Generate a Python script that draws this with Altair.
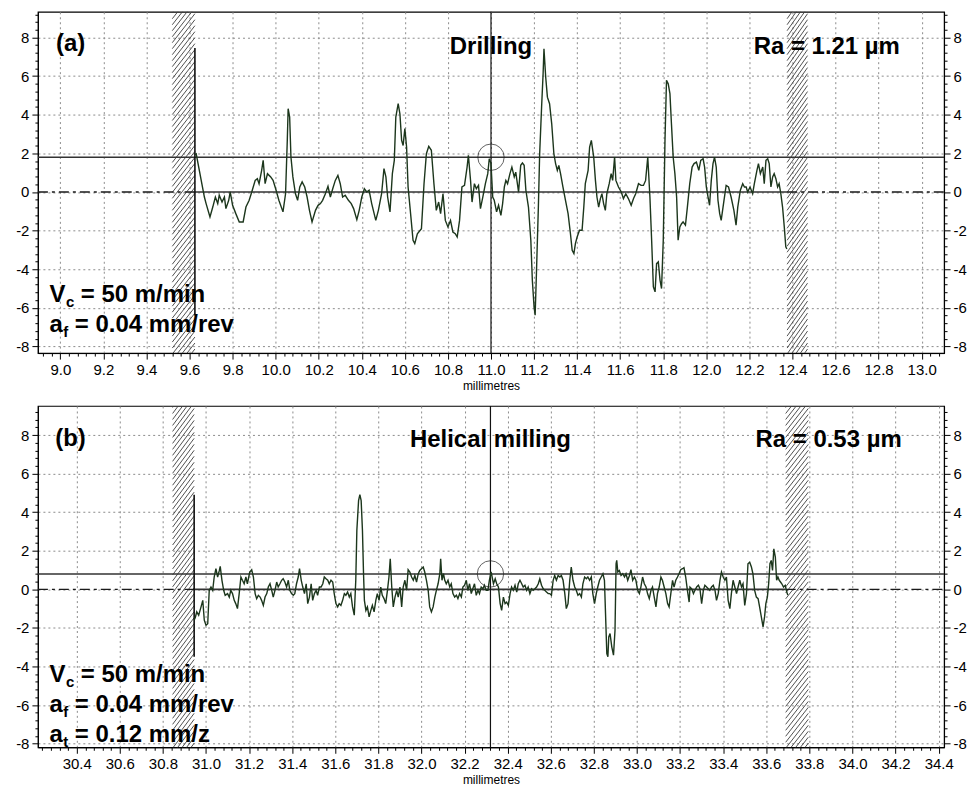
import altair as alt
import pandas as pd
import numpy as np

# ---------------- panel (a): drilling profile ----------------
A_X = [9.625, 9.631, 9.669, 9.677, 9.695, 9.708, 9.720, 9.731, 9.738, 9.751, 9.762, 9.769, 9.782, 9.789,
       9.800, 9.815, 9.831, 9.849, 9.862, 9.877, 9.889, 9.905, 9.915, 9.923, 9.935, 9.942, 9.951, 9.962,
       9.977, 9.988, 10.000, 10.015, 10.034, 10.046, 10.054, 10.058, 10.065, 10.071, 10.080, 10.092, 10.102,
       10.112, 10.123, 10.135, 10.146, 10.157, 10.169, 10.185, 10.197, 10.208, 10.218, 10.231, 10.243,
       10.254, 10.265, 10.277, 10.289, 10.300, 10.311, 10.323, 10.338, 10.351, 10.362, 10.377, 10.388,
       10.400, 10.412, 10.423, 10.434, 10.446, 10.465, 10.477, 10.492, 10.503, 10.512, 10.520, 10.531,
       10.542, 10.551, 10.558, 10.569, 10.577, 10.585, 10.592, 10.600, 10.608, 10.615, 10.628, 10.638,
       10.646, 10.658, 10.677, 10.689, 10.700, 10.711, 10.723, 10.735, 10.746, 10.757, 10.766, 10.777,
       10.788, 10.800, 10.812, 10.823, 10.834, 10.843, 10.854, 10.865, 10.877, 10.889, 10.895, 10.905,
       10.912, 10.923, 10.932, 10.942, 10.951, 10.962, 10.974, 10.985, 10.992, 11.000, 11.008,
       11.015, 11.026, 11.035, 11.046, 11.054, 11.062, 11.069, 11.077, 11.088, 11.097, 11.108, 11.115,
       11.128, 11.138, 11.146, 11.154, 11.162, 11.174, 11.185, 11.192, 11.200, 11.205, 11.211, 11.220,
       11.226, 11.235, 11.242, 11.246, 11.254, 11.262, 11.272, 11.282, 11.292, 11.300, 11.308, 11.315,
       11.323, 11.334, 11.346, 11.358, 11.369, 11.377, 11.385, 11.392, 11.400, 11.411, 11.423, 11.431,
       11.438, 11.451, 11.458, 11.466, 11.477, 11.485, 11.492, 11.500, 11.508, 11.515, 11.523, 11.531,
       11.538, 11.549, 11.558, 11.565, 11.574, 11.580, 11.592, 11.605, 11.615, 11.626, 11.638, 11.651,
       11.662, 11.672, 11.685, 11.697, 11.708, 11.718, 11.728, 11.738, 11.746, 11.754, 11.762, 11.769,
       11.777, 11.785, 11.792, 11.800, 11.808, 11.815, 11.823, 11.831, 11.838, 11.846, 11.854, 11.862,
       11.869, 11.877, 11.885, 11.892, 11.903, 11.912, 11.923, 11.934, 11.943, 11.954, 11.965, 11.974,
       11.985, 11.992, 12.000, 12.008, 12.015, 12.023, 12.031, 12.038, 12.046, 12.054, 12.062, 12.069,
       12.082, 12.092, 12.103, 12.115, 12.128, 12.138, 12.146, 12.158, 12.169, 12.177, 12.185, 12.192,
       12.203, 12.215, 12.223, 12.235, 12.242, 12.251, 12.262, 12.269, 12.277, 12.285, 12.292, 12.300,
       12.308, 12.315, 12.323, 12.331, 12.338, 12.346, 12.354, 12.362, 12.369, 12.374]
A_Y = [1.95, 1.98, -0.26, -0.60, -1.29, -0.78, -0.26, -0.60, -0.17, -0.52, -0.26, -0.86, -0.43, 0.00,
       -0.69, -1.12, -1.55, -1.55, -0.78, -0.43, 0.00, 0.60, 0.69, 0.43, 1.12, 1.64, 0.43, 0.95,
       0.78, 0.60, 0.17, -0.43, -1.03, -0.09, 2.67, 4.31, 3.88, 1.81, 0.78, -0.09, -0.43,
       0.26, 0.52, 0.26, -0.26, -0.95, -1.55, -0.95, -0.69, -0.60, -0.43, -0.09, 0.29,
       -0.26, 0.17, 0.60, 0.86, 0.43, -0.26, -0.17, -0.43, -0.60, -0.86, -1.43, -0.95,
       -0.26, 0.17, 0.00, 0.09, -0.60, -1.47, -0.95, -0.09, 1.21, 0.78, -0.26, -1.03,
       0.95, 1.64, 3.88, 4.57, 4.05, 2.67, 2.41, 3.28, 2.33, 0.26, -1.29, -2.50,
       -2.67, -2.16, -1.90, 0.43, 1.98, 2.36, 2.16, 0.43, -0.95, -0.52, -1.12, -0.09,
       -1.47, -1.81, -1.47, -2.07, -2.16, -2.33, -1.47, 0.26, 0.34, 1.29, 1.90, 0.60,
       -0.52, 0.43, 0.17, 0.34, -0.86, -0.26, 0.43, 0.95, 1.72, 1.47, -0.26,
       -0.43, -1.03, -0.69, -1.21, -0.60, 0.26, 0.60, 0.43, 0.95, 1.29, 0.78, 1.03,
       0.00, 1.38, 1.50, 1.38, 0.09, -0.78, -2.50, -4.57, -5.95, -6.38, -4.22, -0.78,
       1.98, 4.40, 6.12, 7.41, 5.95, 4.91, 4.57, 3.53, 1.98, 1.47, 1.12, 1.38,
       0.95, 0.26, -0.43, -1.12, -2.16, -3.02, -3.19, -2.67, -2.33, -1.98, -1.98, -0.78,
       0.43, 1.12, 2.33, 2.67, 1.81, 0.60, -0.26, -0.78, -0.34, -0.09, -0.60, -0.95,
       -0.09, 0.43, 0.95, 0.60, 1.81, 0.60, 0.26, 0.00, -0.34, -0.09, -0.34, -0.69,
       -0.34, -0.09, 0.43, 0.34, 0.34, 0.60, 1.81, -0.26, -2.50, -4.91, -5.17, -3.71,
       -3.62, -4.57, -5.00, -2.50, 2.67, 5.78, 5.60, 5.09, 3.53, 1.81, 0.95, -0.26,
       -2.50, -1.81, -1.64, -1.55, -1.72, -0.78, 0.43, 1.29, 1.47, 1.55, 1.12, 1.64,
       1.72, 1.29, 0.26, -0.26, -0.69, 0.60, 1.47, 1.81, 1.29, -0.43, -1.12, -1.47,
       -0.43, 0.34, 0.26, -0.26, -0.95, -1.72, -0.78, 0.09, 0.43, 0.26, 0.26, 0.00,
       0.26, -0.09, 0.43, 1.12, 1.47, 0.95, 1.29, 0.43, 1.64, 1.72, 1.47, 0.26,
       0.78, 0.95, 0.69, 0.26, 0.43, -0.09, -0.78, -1.81, -2.84, -2.95]

# ---------------- panel (b): helical milling profile ----------------
B_X = [30.945, 30.951, 30.957, 30.966, 30.977, 30.985, 30.992, 31.000, 31.008, 31.015, 31.023, 31.031,
       31.038, 31.046, 31.054, 31.062, 31.066, 31.074, 31.082, 31.089, 31.100, 31.108, 31.115, 31.123,
       31.131, 31.138, 31.146, 31.154, 31.162, 31.169, 31.177, 31.185, 31.192, 31.203, 31.212, 31.220,
       31.228, 31.235, 31.243, 31.251, 31.258, 31.266, 31.274, 31.282, 31.289, 31.297, 31.305, 31.312,
       31.320, 31.328, 31.335, 31.343, 31.351, 31.358, 31.366, 31.374, 31.382, 31.389, 31.397, 31.405,
       31.412, 31.420, 31.428, 31.434, 31.442, 31.449, 31.457, 31.465, 31.472, 31.480, 31.488, 31.495,
       31.503, 31.511, 31.518, 31.526, 31.534, 31.542, 31.549, 31.557, 31.565, 31.572, 31.580, 31.588,
       31.595, 31.603, 31.611, 31.618, 31.626, 31.634, 31.642, 31.649, 31.657, 31.665, 31.672, 31.680,
       31.688, 31.695, 31.700, 31.708, 31.714, 31.720, 31.726, 31.731, 31.735, 31.742, 31.749, 31.757,
       31.765, 31.772, 31.780, 31.788, 31.795, 31.803, 31.811, 31.818, 31.826, 31.834, 31.842, 31.849,
       31.855, 31.862, 31.869, 31.877, 31.885, 31.892, 31.900, 31.908, 31.915, 31.923, 31.931, 31.938,
       31.946, 31.954, 31.962, 31.969, 31.977, 31.985, 31.992, 32.000, 32.008, 32.015, 32.023, 32.031,
       32.038, 32.046, 32.054, 32.062, 32.069, 32.077, 32.085, 32.089, 32.095, 32.102, 32.108, 32.115,
       32.123, 32.131, 32.138, 32.146, 32.154, 32.162, 32.169, 32.177, 32.185, 32.192, 32.200, 32.208,
       32.215, 32.223, 32.231, 32.238, 32.246, 32.254, 32.262, 32.269, 32.277, 32.285, 32.292, 32.300,
       32.308, 32.315, 32.323,
       32.334, 32.342, 32.349, 32.357, 32.365, 32.372, 32.380, 32.388, 32.395, 32.403, 32.411, 32.418,
       32.426, 32.434, 32.442, 32.449, 32.457, 32.465, 32.472, 32.480, 32.488, 32.495, 32.503, 32.511,
       32.518, 32.526, 32.534, 32.542, 32.549, 32.557, 32.565, 32.572, 32.580, 32.588, 32.595, 32.603,
       32.611, 32.618, 32.626, 32.634, 32.642, 32.649, 32.657, 32.665, 32.672, 32.680, 32.688, 32.695,
       32.703, 32.711, 32.718, 32.726, 32.734, 32.742, 32.749, 32.757, 32.765, 32.772, 32.780, 32.788,
       32.795, 32.803, 32.811, 32.818, 32.826, 32.834, 32.842, 32.849, 32.854, 32.860, 32.865, 32.869,
       32.875, 32.883, 32.891, 32.898, 32.903, 32.906, 32.911, 32.918, 32.926, 32.934, 32.942, 32.949,
       32.957, 32.965, 32.972, 32.980, 32.988, 32.995, 33.003, 33.011, 33.018, 33.026, 33.034, 33.042,
       33.049, 33.057, 33.065, 33.072, 33.080, 33.088, 33.095, 33.103, 33.111, 33.118, 33.126, 33.134,
       33.142, 33.149, 33.157, 33.165, 33.172, 33.180, 33.188, 33.195, 33.203, 33.211, 33.218, 33.226,
       33.234, 33.242, 33.246, 33.254, 33.262, 33.269, 33.277, 33.285, 33.292, 33.300, 33.308, 33.315,
       33.323, 33.331, 33.338, 33.346, 33.354, 33.362, 33.369, 33.377, 33.385, 33.392, 33.400, 33.408,
       33.415, 33.423, 33.431, 33.438, 33.446, 33.454, 33.462, 33.469, 33.477, 33.485, 33.492, 33.500,
       33.508, 33.515, 33.523, 33.531, 33.538, 33.546, 33.554, 33.562, 33.569, 33.577, 33.585, 33.592,
       33.598, 33.605, 33.611, 33.617, 33.623, 33.629, 33.635, 33.642, 33.648, 33.654, 33.660, 33.666,
       33.672, 33.680, 33.688, 33.695, 33.700]
B_Y = [-1.60, -1.43, -1.17, -1.34, -0.91, -0.57, -1.60, -1.86, -1.78, -0.05, 0.12, -0.05,
       0.64, 1.07, 0.64, 0.98, 1.19, 0.47, -0.05, -0.31, -0.22, -0.40, -0.05, -0.22,
       -0.57, -0.74, -1.00, -0.22, 0.64, 0.47, 0.29, 0.64, 0.29, 0.90, 1.02, 0.64,
       -0.22, -0.48, -0.31, -0.40, -0.57, -0.83, -0.40, -0.22, 0.12, 0.29, -0.05, -0.40,
       -0.05, 0.38, 0.12, 0.29, 0.47, 0.55, 0.38, 0.12, 0.47, -0.05, -0.22, -0.31,
       -0.22, 0.29, 0.64, 1.07, 0.47, 0.12, -0.22, 0.29, -0.74, -0.40, 0.29, -0.57,
       -0.22, -0.05, -0.31, 0.12, 0.12, 0.29, 0.64, 0.55, 0.47, 0.29, 0.47, 0.38,
       -0.22, -0.74, -0.91, -0.74, -0.83, -0.57, -0.22, -0.31, -0.14, -0.40, -0.22, -0.91,
       -1.34, 0.47, 3.05, 4.60, 4.91, 4.60, 3.05, 0.81, -0.57, -1.09, -0.91, -1.43,
       -1.09, -0.83, -1.17, -0.57, -0.22, -0.57, 0.12, -0.31, -0.48, -0.74, -0.05, 0.64,
       1.59, 0.12, -0.91, -0.40, -0.05, -0.40, 0.12, -0.91, 0.12, 0.47, -0.05, 1.02,
       0.90, 0.64, 0.47, 0.72, 0.38, 0.81, 0.98, 1.07, 1.16, 0.90, 0.47, -0.05,
       -0.91, -1.17, -0.91, -0.40, -0.05, 0.29, 0.81, 1.59, 0.47, 0.81, 0.47, 0.29,
       0.47, 0.12, 0.29, -0.22, -0.40, -0.31, -0.48, -0.22, -0.40, 0.12, 0.21, 0.47,
       -0.05, 0.29, -0.22, 0.03, 0.29, -0.31, -0.05, -0.22, 0.12, 0.03, 0.21, -0.05,
       -0.05, 0.47, 0.90,
       0.29, 0.55, 0.29, 0.12, -0.74, -1.09, -0.40, -0.74, -0.66, -0.83, -0.22, 0.12,
       -0.05, 0.21, -0.14, 0.29, 0.47, 0.29, 0.12, 0.21, -0.05, 0.12, -0.22, 0.03,
       -0.05, 0.03, 0.12, 0.29, 0.55, 0.21, 0.03, -0.05, -0.14, -0.22, -0.22, -0.31,
       0.47, 0.72, 0.47, 0.72, 0.64, 0.72, 0.47, -0.22, -1.00, -0.74, 0.47, 1.16,
       0.47, 0.12, -0.05, -0.31, -0.22, -0.40, 0.29, 0.64, 0.55, 0.64, 0.47, 0.64,
       -0.22, -0.74, -0.22, 0.12, 0.47, 0.64, 0.81, 0.47, -1.26, -3.33, -3.50, -2.47,
       -2.29, -2.98, -3.41, -2.12, 1.33, 1.50, 0.90, 0.98, 0.72, 0.81, 0.64, 0.81,
       0.47, 0.72, 1.02, 0.47, 0.64, 0.47, -0.05, -0.22, 0.12, 0.64, 0.29, 0.12,
       -0.22, -0.48, -0.05, 0.12, -0.40, -0.91, -0.22, 0.12, 0.64, 0.47, 0.12, -0.22,
       -0.74, -0.91, -0.22, 0.47, 0.12, 0.47, 0.64, 0.81, 1.02, 1.07, 1.12, 0.64,
       -0.05, -0.66, 0.12, 0.03, -0.22, -0.05, 0.12, 0.21, 0.03, -0.74, -0.05, 0.21,
       0.12, 0.03, -0.05, 0.12, 0.21, -0.05, -0.57, -0.22, 0.47, 0.90, 0.64, 0.47,
       0.64, -0.57, -1.00, -0.22, 0.47, 0.12, -0.22, 0.12, 0.47, 0.12, 0.29, -0.83,
       -0.22, 1.33, 1.41, 1.16, 0.81, -0.05, -0.40, -0.48, -0.91, -1.43, -1.95, -1.43,
       -0.74, -0.40, 0.29, 1.33, 1.50, 0.98, 2.10, 1.67, 0.47, 0.64, 0.47, 0.38,
       0.29, 0.12, 0.21, -0.14, -0.30]

# ---------------- panel settings (values in mm / µm) ----------------
A_XDOM, A_YDOM = [8.896, 13.104], [-8.34, 9.33]
B_XDOM, B_YDOM = [30.22, 34.425], [-8.19, 9.51]
A_BANDS = [(9.52, 9.625), (12.375, 12.47)]
B_BANDS = [(30.845, 30.945), (33.69, 33.795)]
A_RA_LEVEL, B_RA_LEVEL = 1.8, 0.8
A_CURSOR, B_CURSOR = 11.0, 32.32
A_START, B_START = (9.625, 7.45, -6.4), (30.945, 4.9, -3.5)
A_XTICK_START, B_XTICK_START = 8.92, 30.24

A_TAG, B_TAG = "(a)", "(b)"
A_TITLE, B_TITLE = "Drilling", "Helical milling"
A_RA, B_RA = "Ra = 1.21 µm", "Ra = 0.53 µm"
A_TAG_POS, B_TAG_POS = (8.98, 7.67), (30.30, 7.8)
A_TITLE_Y, B_TITLE_Y = 7.52, 7.76
A_RA_POS, B_RA_POS = (12.22, 7.52), (33.55, 7.76)
A_PARAMS = [("V", "c", "= 50 m/min"), ("a", "f", "= 0.04 mm/rev")]
B_PARAMS = [("V", "c", "= 50 m/min"), ("a", "f", "= 0.04 mm/rev"), ("a", "t", "= 0.12 mm/z")]
A_PARAM_X, B_PARAM_X = 8.95, 30.274
A_PARAM_Y = [-5.33, -6.88]
B_PARAM_Y = [-4.45, -6.0, -7.55]

FONT = "Liberation Sans"
LINE_COLOR = "#1c361c"

XMAJOR = "abs(datum.value*5 - round(datum.value*5)) < 0.001"
YMAJOR = "abs(datum.value/2 - round(datum.value/2)) < 0.001"
Y_TICKS = [round(v, 1) for v in np.arange(-8.0, 9.3, 0.4)]


def x_axis(start, stop):
    vals = [round(v, 2) for v in np.arange(start, stop, 0.04)]
    return alt.Axis(values=vals, title="millimetres",
                    labelExpr=f"{XMAJOR} ? format(datum.value, '.1f') : ''",
                    tickSize={"condition": {"test": XMAJOR, "value": 6}, "value": 3},
                    gridOpacity={"condition": {"test": XMAJOR, "value": 1}, "value": 0},
                    grid=True, gridDash=[2, 3], gridColor="#8c8c8c", gridWidth=1,
                    labelOverlap=False, labelFlush=False, labelPadding=3,
                    titlePadding=3, titleFontSize=12, titleFontWeight="normal",
                    domainColor="black", tickColor="black")


def y_axis(orient):
    return alt.Axis(values=Y_TICKS, title=None, orient=orient,
                    labelExpr=f"{YMAJOR} ? '' + round(datum.value) : ''",
                    tickSize={"condition": {"test": YMAJOR, "value": 6}, "value": 3},
                    gridOpacity={"condition": {"test": YMAJOR, "value": 1}, "value": 0},
                    grid=(orient == "left"), gridDash=[2, 3], gridColor="#8c8c8c", gridWidth=1,
                    labelOverlap=False, labelFlush=False, labelPadding=3,
                    domainColor="black", tickColor="black",
                    minExtent=32 if orient == "left" else 26,
                    maxExtent=32 if orient == "left" else 26)


def panel(px, py, xdom, ydom, bands, ra_level, cursor, start, xtick_start,
          tag, tag_pos, title, title_y, ra, ra_pos, params, param_x, param_y):
    xs = alt.Scale(domain=xdom, nice=False, zero=False)
    ys = alt.Scale(domain=ydom, nice=False, zero=False)
    xax = x_axis(xtick_start, xdom[1])
    yax = y_axis("left")
    X = lambda f: alt.X(f, type="quantitative", scale=xs, axis=xax)
    Y = lambda f: alt.Y(f, type="quantitative", scale=ys, axis=yax)

    # hatch lines inside the excluded bands
    rows = []
    for (b0, b1) in bands:
        for y0 in np.arange(ydom[0] - 1.6, ydom[1] + 0.01, 0.31):
            rows.append({"x": b0, "x2": b1, "y": y0, "y2": y0 + 1.5})
    hatch = alt.Chart(pd.DataFrame(rows)).mark_rule(
        clip=True, color="#3c3c3c", strokeWidth=0.9).encode(
        x=X("x"), x2="x2", y=Y("y"), y2="y2")

    # mean line: dash-dot outside the evaluation length, solid inside
    zero_dash = pd.DataFrame({"x": [xdom[0], bands[1][0]], "x2": [bands[0][1], xdom[1]], "y": [0, 0]})
    zdash = alt.Chart(zero_dash).mark_rule(color="#1a1a1a", strokeWidth=1.3,
                                           strokeDash=[10, 4, 3, 4]).encode(x=X("x"), x2="x2", y=Y("y"))
    zero_solid = pd.DataFrame({"x": [bands[0][1]], "x2": [bands[1][0]], "y": [0]})
    zsolid = alt.Chart(zero_solid).mark_rule(color="#333333", strokeWidth=1.6).encode(
        x=X("x"), x2="x2", y=Y("y"))

    ra_df = pd.DataFrame({"x": [xdom[0]], "x2": [xdom[1]], "y": [ra_level]})
    raline = alt.Chart(ra_df).mark_rule(color="#333333", strokeWidth=1.6).encode(
        x=X("x"), x2="x2", y=Y("y"))

    cur_df = pd.DataFrame({"x": [cursor], "y": [ydom[0]], "y2": [ydom[1]]})
    curline = alt.Chart(cur_df).mark_rule(color="#111111", strokeWidth=1.2).encode(
        x=X("x"), y=Y("y"), y2="y2")

    st_df = pd.DataFrame({"x": [start[0]], "y": [start[1]], "y2": [start[2]]})
    stline = alt.Chart(st_df).mark_rule(color="#111111", strokeWidth=1.6).encode(
        x=X("x"), y=Y("y"), y2="y2")

    prof = alt.Chart(pd.DataFrame({"x": px, "y": py})).mark_line(
        color=LINE_COLOR, strokeWidth=1.4).encode(x=X("x"), y=Y("y"), order="x:Q")

    circ = alt.Chart(pd.DataFrame({"x": [cursor], "y": [ra_level]})).mark_point(
        shape="circle", size=700, filled=False, color="#222222", strokeWidth=1).encode(
        x=X("x"), y=Y("y"))

    bold = dict(font=FONT, fontWeight="bold", fontSize=24, color="black", baseline="middle")
    t_tag = alt.Chart(pd.DataFrame({"x": [tag_pos[0]], "y": [tag_pos[1]], "t": [tag]})).mark_text(
        align="left", **bold).encode(x=X("x"), y=Y("y"), text="t:N")
    t_title = alt.Chart(pd.DataFrame({"x": [cursor], "y": [title_y], "t": [title]})).mark_text(
        align="center", **bold).encode(x=X("x"), y=Y("y"), text="t:N")
    t_ra = alt.Chart(pd.DataFrame({"x": [ra_pos[0]], "y": [ra_pos[1]], "t": [ra]})).mark_text(
        align="left", **bold).encode(x=X("x"), y=Y("y"), text="t:N")

    texts = [t_tag, t_title, t_ra]
    for (main, sub, rest), yv in zip(params, param_y):
        w_main = 16.0 if main == "V" else 13.3
        w_sub = 8.3 if sub == "c" else 5.0
        d = pd.DataFrame({"x": [param_x], "y": [yv], "m": [main], "s": [sub], "r": [rest]})
        base = alt.Chart(d)
        texts.append(base.mark_text(align="left", **bold).encode(x=X("x"), y=Y("y"), text="m:N"))
        texts.append(base.mark_text(align="left", font=FONT, fontWeight="bold", fontSize=15,
                                    color="black", baseline="middle", dx=w_main + 0.5, dy=7).encode(
            x=X("x"), y=Y("y"), text="s:N"))
        texts.append(base.mark_text(align="left", dx=w_main + w_sub + 7, **bold).encode(
            x=X("x"), y=Y("y"), text="r:N"))

    inner = alt.layer(hatch, zdash, zsolid, raline, curline, stline, prof, circ, *texts)

    right = alt.Chart(pd.DataFrame({"y": [0.0]})).mark_point(opacity=0).encode(
        y=alt.Y("y:Q", scale=ys, axis=y_axis("right")))

    return alt.layer(inner, right).resolve_scale(y="independent").properties(width=908, height=342)


pa = panel(A_X, A_Y, A_XDOM, A_YDOM, A_BANDS, A_RA_LEVEL, A_CURSOR, A_START, A_XTICK_START,
           A_TAG, A_TAG_POS, A_TITLE, A_TITLE_Y, A_RA, A_RA_POS, A_PARAMS, A_PARAM_X, A_PARAM_Y)
pb = panel(B_X, B_Y, B_XDOM, B_YDOM, B_BANDS, B_RA_LEVEL, B_CURSOR, B_START, B_XTICK_START,
           B_TAG, B_TAG_POS, B_TITLE, B_TITLE_Y, B_RA, B_RA_POS, B_PARAMS, B_PARAM_X, B_PARAM_Y)

chart = alt.vconcat(pa, pb, spacing=12).properties(
    padding={"left": 5, "top": 5, "right": 5, "bottom": 0},
    background="white",
).configure_view(stroke="black", strokeWidth=1.2).configure_axis(
    labelFont=FONT, labelFontSize=15, labelColor="black",
    titleFont=FONT, titleColor="black")

chart.save("out.html", embed_options={"renderer": "svg", "actions": False})
